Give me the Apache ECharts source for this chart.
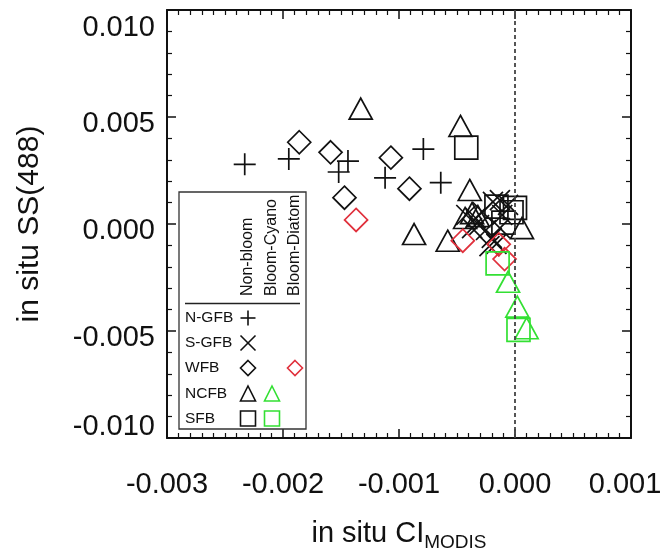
<!DOCTYPE html>
<html>
<head>
<meta charset="utf-8">
<script src="https://cdn.jsdelivr.net/npm/echarts@6/dist/echarts.min.js"></script>
<style>
html,body{margin:0;padding:0;background:#fff;}
#chart{width:666px;height:556px;}
</style>
</head>
<body>
<div id="chart"></div>
<script>
// ---- data (x = in situ CI_MODIS, y = in situ SS(488)) ----
const xTicks = [-0.003, -0.002, -0.001, 0.000, 0.001];
const yTicks = [-0.010, -0.005, 0.000, 0.005, 0.010];

const ngfbNonBloom = [
  [-0.00233, 0.00279], [-0.00195, 0.00304], [-0.00144, 0.00294],
  [-0.00152, 0.00243], [-0.00112, 0.00216], [-0.00079, 0.00350],
  [-0.00064, 0.00193]
];
const sgfbNonBloom = [
  [-0.00019, 0.00103], [-0.00013, 0.00112], [-0.00006, 0.00089],
  [-0.00028, 0.00056], [-0.00034, 0.00028], [-0.00042, 0.00042],
  [-0.00031, -0.00005], [-0.00025, -0.00028], [-0.00037, -0.00019],
  [-0.00020, -0.00065], [-0.00016, -0.00093], [-0.00022, -0.00103],
  [-0.00011, 0.00042], [-0.00013, -0.00019]
];
const wfbNonBloom = [
  [-0.00186, 0.00382], [-0.00159, 0.00335], [-0.00107, 0.00310],
  [-0.00147, 0.00123], [-0.00091, 0.00165]
];
const wfbDiatom = [
  [-0.00137, 0.00019], [-0.00045, -0.00078], [-0.00014, -0.00095],
  [-0.00009, -0.00164]
];
const ncfbNonBloom = [
  [-0.00133, 0.00539], [-0.00047, 0.00458], [-0.00087, -0.00047],
  [-0.00058, -0.00078], [-0.00039, 0.00159], [-0.00037, 0.00051],
  [-0.00032, 0.00037], [-0.00043, 0.00028], [0.00006, -0.00019]
];
const ncfbCyano = [
  [-0.00006, -0.00270], [0.00002, -0.00386], [0.00010, -0.00487]
];
const sfbNonBloom = [
  [-0.00042, 0.00357], [-0.00016, 0.00081], [-0.00003, 0.00055],
  [-0.00010, 0.00006], [0.00000, 0.00075]
];
const sfbCyano = [
  [-0.00015, -0.00184], [0.00003, -0.00495]
];

const rowNames = ['N-GFB', 'S-GFB', 'WFB', 'NCFB', 'SFB'];
const colNames = ['Non-bloom', 'Bloom-Cyano', 'Bloom-Diatom'];

// ---- styling ----
const BLACK = '#111';
const RED = '#e0303c';
const GREEN = '#33e033';
const FONT = 'Liberation Sans, Arial, Helvetica, sans-serif';
const PLUS = 'path://M0,10L20,10M10,0L10,20';
const CROSS = 'path://M0,0L20,20M20,0L0,20';

function mk(name, data, symbol, size, color) {
  return {
    type: 'scatter', name: name, data: data, symbol: symbol, symbolSize: size,
    itemStyle: { color: 'rgba(0,0,0,0)', borderColor: color, borderWidth: 1.7, opacity: 1 },
    emphasis: { disabled: true }, animation: false, silent: true
  };
}
function fmt(v) { return Math.abs(v) < 1e-12 ? '0.000' : v.toFixed(3); }
function fmtY(v) {
  const t = fmt(v);
  if (Math.abs(v - yTicks[yTicks.length - 1]) < 1e-9) return '{top|' + t + '}';
  if (Math.abs(v - yTicks[0]) < 1e-9) return '{bot|' + t + '}';
  return '{mid|' + t + '}';
}
function fmtX(v) {
  const t = fmt(v);
  if (Math.abs(v - xTicks[xTicks.length - 1]) < 1e-9) return '{last|' + t + '}';
  return '{n|' + t + '}';
}
const lab = { fontSize: 29, fontFamily: FONT, color: '#111' };

const series = [
  mk('N-GFB Non-bloom', ngfbNonBloom, PLUS, 22, BLACK),
  mk('WFB Non-bloom', wfbNonBloom, 'diamond', 23, BLACK),
  mk('NCFB Non-bloom', ncfbNonBloom, 'triangle', [23, 21], BLACK),
  mk('SFB Non-bloom', sfbNonBloom, 'rect', 23, BLACK),
  mk('S-GFB Non-bloom', sgfbNonBloom, CROSS, 20, BLACK),
  mk('WFB Bloom-Diatom', wfbDiatom, 'diamond', 23, RED),
  mk('NCFB Bloom-Cyano', ncfbCyano, 'triangle', [23, 21], GREEN),
  mk('SFB Bloom-Cyano', sfbCyano, 'rect', 23, GREEN)
];
series[0].markLine = {
  silent: true, symbol: 'none', animation: false,
  label: { show: false },
  lineStyle: { color: '#444', type: [4, 3], width: 1.8 },
  data: [{ xAxis: 0 }]
};

// ---- legend (drawn as graphics in a grid layout) ----
const LX = 179, LY = 192, LW = 127, LH = 237;
const colX = [248, 272, 295];
const rowY = [318, 343, 368, 393.5, 418.5];
const g = [];
g.push({ type: 'rect', shape: { x: LX, y: LY, width: LW, height: LH },
  style: { fill: '#fff', stroke: '#333', lineWidth: 1.3 }, z: 100 });
colNames.forEach((t, i) => g.push({ type: 'text', x: colX[i], y: 296, rotation: Math.PI / 2, z: 101,
  style: { text: t, fontSize: 16, fontFamily: FONT, fill: '#111', align: 'left', verticalAlign: 'middle' } }));
g.push({ type: 'line', shape: { x1: 185, y1: 303.5, x2: 300, y2: 303.5 }, style: { stroke: '#222', lineWidth: 1.5 }, z: 101 });
rowNames.forEach((t, i) => g.push({ type: 'text', x: 185, y: rowY[i], z: 101,
  style: { text: t, fontSize: 15.5, fontFamily: FONT, fill: '#111', align: 'left', verticalAlign: 'middle' } }));
const s = 7.5;
function sym(kind, cx, cy, color) {
  const st = { stroke: color, fill: 'none', lineWidth: 1.6 };
  if (kind === 'plus') {
    g.push({ type: 'line', shape: { x1: cx - s, y1: cy, x2: cx + s, y2: cy }, style: st, z: 102 });
    g.push({ type: 'line', shape: { x1: cx, y1: cy - s, x2: cx, y2: cy + s }, style: st, z: 102 });
  } else if (kind === 'cross') {
    g.push({ type: 'line', shape: { x1: cx - s, y1: cy - s, x2: cx + s, y2: cy + s }, style: st, z: 102 });
    g.push({ type: 'line', shape: { x1: cx + s, y1: cy - s, x2: cx - s, y2: cy + s }, style: st, z: 102 });
  } else if (kind === 'diamond') {
    g.push({ type: 'polygon', shape: { points: [[cx, cy - s], [cx + s, cy], [cx, cy + s], [cx - s, cy]] }, style: st, z: 102 });
  } else if (kind === 'triangle') {
    g.push({ type: 'polygon', shape: { points: [[cx, cy - s], [cx + s, cy + s], [cx - s, cy + s]] }, style: st, z: 102 });
  } else if (kind === 'rect') {
    g.push({ type: 'rect', shape: { x: cx - s, y: cy - s, width: 2 * s, height: 2 * s }, style: st, z: 102 });
  }
}
sym('plus', colX[0], rowY[0], BLACK);
sym('cross', colX[0], rowY[1], BLACK);
sym('diamond', colX[0], rowY[2], BLACK);
sym('diamond', colX[2], rowY[2], RED);
sym('triangle', colX[0], rowY[3], BLACK);
sym('triangle', colX[1], rowY[3], GREEN);
sym('rect', colX[0], rowY[4], BLACK);
sym('rect', colX[1], rowY[4], GREEN);

const axisLine = { show: true, onZero: false, lineStyle: { color: '#111', width: 2 } };
const tick = { show: true, inside: true, length: 9, lineStyle: { color: '#111', width: 1.5 } };
function minor(n) { return { show: true, splitNumber: n, length: 5, lineStyle: { color: '#111', width: 1.2 } }; }
const common = { splitLine: { show: false }, minorSplitLine: { show: false }, axisLine: axisLine, axisTick: tick };

const option = {
  backgroundColor: '#fff',
  animation: false,
  grid: { left: 167, top: 10, width: 464, height: 428, containLabel: false, outerBoundsMode: 'none' },
  xAxis: [
    Object.assign({
      type: 'value', min: xTicks[0], max: xTicks[xTicks.length - 1], interval: 0.001,
      position: 'bottom', minorTick: minor(10),
      axisLabel: { formatter: fmtX, fontSize: 29, fontFamily: FONT, color: '#111', margin: 32, showMinLabel: true, showMaxLabel: true,
        rich: { n: lab, last: Object.assign({ padding: [0, 12, 0, 0] }, lab) } },
      name: '{a|in situ CI}{b|MODIS}', nameLocation: 'middle', nameGap: 77,
      nameTextStyle: { fontFamily: FONT, color: '#111',
        rich: { a: { fontSize: 29, fontFamily: FONT, color: '#111' },
                b: { fontSize: 19, fontFamily: FONT, color: '#111', padding: [18, 0, 0, 0] } } }
    }, common),
    Object.assign({
      type: 'value', min: xTicks[0], max: xTicks[xTicks.length - 1], interval: 0.001,
      position: 'top', minorTick: minor(10),
      axisLabel: { show: false }
    }, common)
  ],
  yAxis: [
    Object.assign({
      type: 'value', min: yTicks[0], max: yTicks[yTicks.length - 1], interval: 0.005,
      position: 'left', minorTick: minor(5),
      axisLabel: { formatter: fmtY, fontSize: 29, fontFamily: FONT, color: '#111', margin: 12, showMinLabel: true, showMaxLabel: true,
        rich: { mid: Object.assign({ padding: [13, 0, 0, 0] }, lab),
                top: Object.assign({ padding: [36, 0, 0, 0] }, lab),
                bot: Object.assign({ padding: [0, 0, 22, 0] }, lab) } },
      name: 'in situ SS(488)', nameLocation: 'middle', nameGap: 122,
      nameTextStyle: { fontSize: 30, fontFamily: FONT, color: '#111' }
    }, common),
    Object.assign({
      type: 'value', min: yTicks[0], max: yTicks[yTicks.length - 1], interval: 0.005,
      position: 'right', minorTick: minor(5),
      axisLabel: { show: false }
    }, common)
  ],
  series: series,
  graphic: g
};

const chart = echarts.init(document.getElementById('chart'), null, { renderer: 'canvas' });
chart.setOption(option);
</script>
</body>
</html>
